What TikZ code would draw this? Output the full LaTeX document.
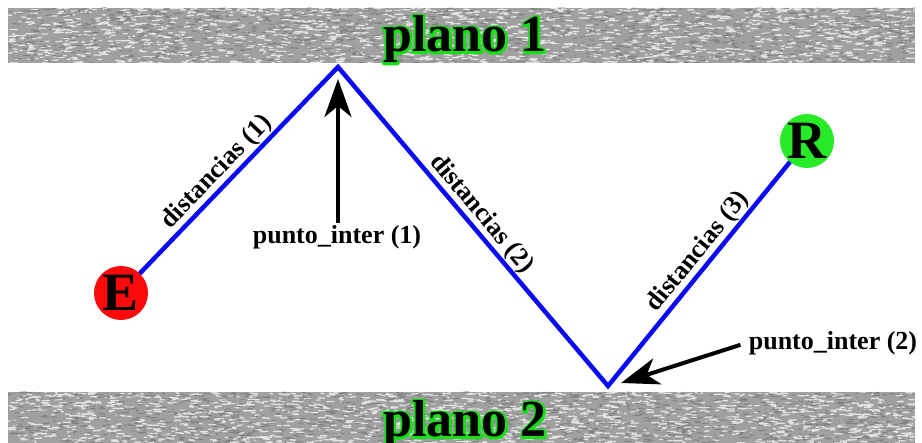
\documentclass[tikz,border=0pt]{standalone}
\usepackage{fontspec}
\setmainfont{Liberation Serif}
\usetikzlibrary{arrows.meta}
\definecolor{glow}{RGB}{20,225,20}
\definecolor{rgreen}{RGB}{40,235,40}
\definecolor{ered}{RGB}{250,10,10}
\definecolor{bandgray}{RGB}{160,160,160}
\definecolor{pblue}{RGB}{10,10,245}
\tikzset{
  ray/.style={draw=pblue, line width=4.5pt, line join=miter},
  pointer/.style={draw=black, line width=4pt, -{Stealth[length=38pt,width=27pt,inset=11pt]}},
  lbl/.style={font=\fontsize{26}{30}\selectfont\bfseries, inner sep=2.5pt},
  endpoint/.style={circle, minimum size=54pt, inner sep=0pt, font=\fontsize{54}{56}\selectfont\bfseries},
  planetext/.style={font=\fontsize{52}{56}\selectfont\bfseries, anchor=base, inner sep=0pt},
}
\newcommand\strokedonly[1]{\special{pdf:literal direct q 0.08 0.88 0.08 RG 4.4 w 1 j 1 Tr}#1\special{pdf:literal direct Q}}
\newcommand\bandtexture[4]{%
  \fill[bandgray] (#1,#2) rectangle (#3,#4);
  \begin{scope}
    \clip (#1,#2) rectangle (#3,#4);
    \draw[white, opacity=0.7, line width=1.3pt, line cap=round]
      \foreach \i in {1,...,1500}{ ({#1+(#3-#1)*rnd},{#2+(#4-#2)*rnd}) -- ++({2+6*rnd},{1.4*rnd-0.7}) };
    \draw[black!60, opacity=0.5, line width=1.1pt, line cap=round]
      \foreach \i in {1,...,1200}{ ({#1+(#3-#1)*rnd},{#2+(#4-#2)*rnd}) -- ++({2+5*rnd},{1.4*rnd-0.7}) };
  \end{scope}}
\begin{document}
\begin{tikzpicture}[x=1pt, y=-1pt]
  \pgfmathsetseed{7}
  \fill[white] (0,0) rectangle (922,443);
  \useasboundingbox (0,0) rectangle (922,443);
  % planes
  \bandtexture{8}{8}{915}{63}
  \bandtexture{8}{392}{915}{443}
  \coordinate (L1) at (465,52);
  \coordinate (L2) at (465,437);
  \node[planetext] at (L1) {\strokedonly{plano 1}};
  \node[planetext] (plano1) at (L1) {plano 1};
  \node[planetext] at (L2) {\strokedonly{plano 2}};
  \node[planetext] (plano2) at (L2) {plano 2};
  % ray path
  \coordinate (Ec) at (121,293);
  \coordinate (Rc) at (807,141);
  \coordinate (P1) at (338,67);
  \coordinate (P2) at (608,386);
  \draw[ray] (Ec) -- (P1) -- (P2) -- (Rc);
  \path (Ec) -- node[lbl, sloped, above, pos=0.49] (d1) {distancias (1)} (P1);
  \path (P1) -- node[lbl, sloped, above, pos=0.49] (d2) {distancias (2)} (P2);
  \path (P2) -- node[lbl, sloped, above, pos=0.51] (d3) {distancias (3)} (Rc);
  \node[endpoint, fill=ered] (E) at (Ec) {E};
  \node[endpoint, fill=rgreen] (R) at (Rc) {R};
  % pointers
  \node[lbl] (pi1) at (337,237) {punto\_inter (1)};
  \coordinate (t1) at (338,79);
  \draw[pointer] (pi1.north -| t1) -- (t1);
  \node[lbl] (pi2) at (833,343) {punto\_inter (2)};
  \coordinate (t2) at (621,383);
  \draw[pointer, shorten <=6pt] (pi2.west) -- (t2);
\end{tikzpicture}
\end{document}
